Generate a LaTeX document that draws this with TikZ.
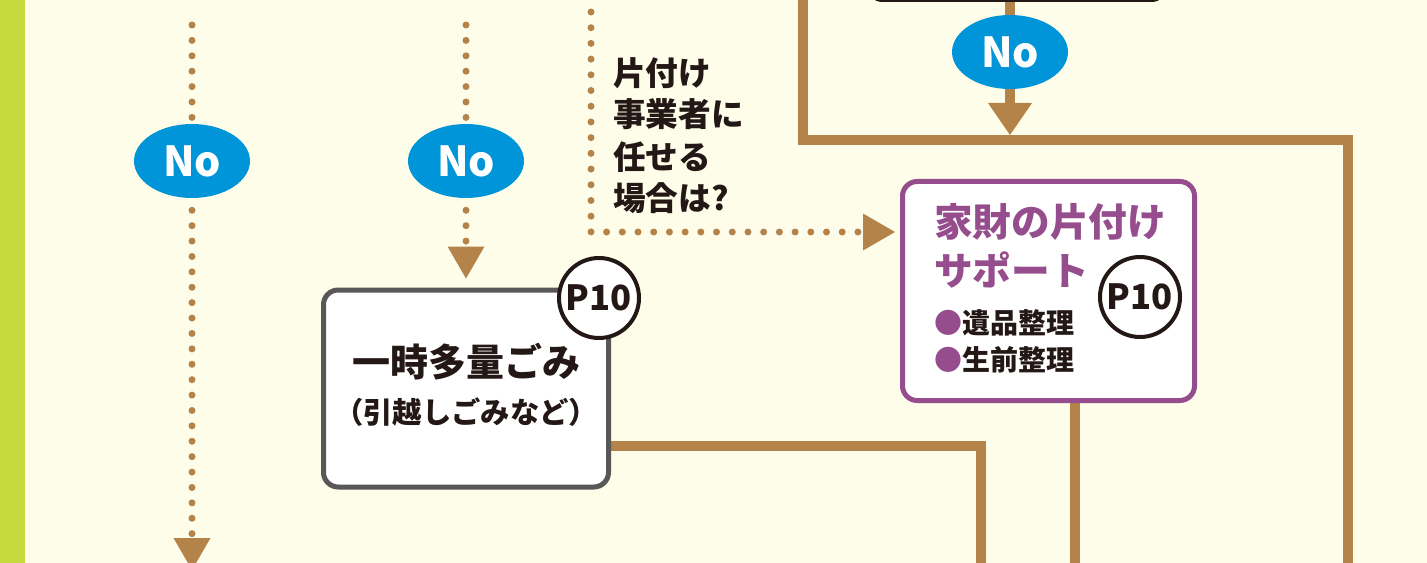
\documentclass[tikz,border=0pt]{standalone}
\usepackage{fontspec}
\setmainfont{Noto Sans CJK JP}
\usetikzlibrary{arrows.meta,shapes.geometric,calc}
\definecolor{bgc}{HTML}{FEFDEA}
\definecolor{leaf}{HTML}{C6D93E}
\definecolor{brn}{HTML}{B3834A}
\definecolor{nob}{HTML}{0094D8}
\definecolor{pur}{HTML}{954D8D}
\definecolor{gry}{HTML}{595757}
\definecolor{ink}{HTML}{231815}
\pgfdeclarelayer{back}
\pgfdeclarelayer{lines}
\pgfsetlayers{back,lines,main}
\begin{document}
\begin{tikzpicture}[x=0.75pt,y=-0.75pt,
  noell/.style={ellipse, fill=nob, minimum width=87pt, minimum height=55.5pt, inner sep=0pt,
    text=white, font=\bfseries\fontsize{31}{31}\selectfont},
  dotln/.style={draw=brn, line width=5.25pt, line cap=round, dash pattern=on 0pt off 11.55pt},
  solidln/.style={draw=brn, line width=7.5pt},
  brtip/.style={-{Triangle[length=24pt, width=27.75pt, line width=0pt]}},
  brtipS/.style={-{Triangle[length=24pt, width=33pt, line width=0pt]}},
  pcirc/.style={circle, draw=ink, line width=3pt, fill=white, minimum size=60pt, inner sep=0pt,
    text=ink, font=\bfseries\fontsize{26}{26}\selectfont},
  gbox/.style={draw=gry, line width=3.75pt, rounded corners=11pt, fill=white},
  pbox/.style={draw=pur, line width=3.75pt, rounded corners=11pt, fill=white},
  txt/.style={inner sep=0pt, text=ink}
]
\useasboundingbox (0,0) rectangle (1427,563);
\clip (0,0) rectangle (1427,563);
\begin{pgfonlayer}{back}
\fill[bgc] (0,0) rectangle (1427,563);
\fill[leaf] (0,0) rectangle (25,563);
\end{pgfonlayer}

% nodes
\node[noell] (no1) at (192,161) {No};
\node[noell] (no2) at (466,161) {No};
\node[noell] (no3) at (1010,52) {No};

\node[draw=ink, line width=3pt, rounded corners=10pt, fill=white, minimum width=222pt,
  minimum height=60pt, anchor=south] (topbox) at (1017,2) {};

\node[gbox, minimum width=213.75pt, minimum height=147.75pt] (box1) at (466,388.5) {};
\node[txt, font=\bfseries\fontsize{28.5}{28.5}\selectfont] (t1) at (466,362) {一時多量ごみ};
\node[txt, font=\bfseries\fontsize{22}{22}\selectfont] (t2) at (466,412) {（引越しごみなど）};
\node[pcirc] (pc1) at (599,298) {P10};

\node[pbox, minimum width=219pt, minimum height=164.25pt] (box2) at (1048.5,291) {};
\node[txt, anchor=west, text=pur, font=\bfseries\fontsize{29}{29}\selectfont] (p1) at (934,222) {家財の片付け};
\node[txt, anchor=west, text=pur, font=\bfseries\fontsize{29}{29}\selectfont] (p2) at (934,270) {サポート};
\node[txt, anchor=west, font=\bfseries\fontsize{21}{21}\selectfont] (p3) at (934,323) {\textcolor{pur}{●}遺品整理};
\node[txt, anchor=west, font=\bfseries\fontsize{21}{21}\selectfont] (p4) at (934,360) {\textcolor{pur}{●}生前整理};
\node[pcirc] (pc2) at (1140,297) {P10};

\node[txt, anchor=west, font=\bfseries\fontsize{24.5}{24.5}\selectfont] (q1) at (613,73) {片付け};
\node[txt, anchor=west, font=\bfseries\fontsize{24.5}{24.5}\selectfont] (q2) at (613,114) {事業者に};
\node[txt, anchor=west, font=\bfseries\fontsize{24.5}{24.5}\selectfont] (q3) at (613,157) {任せる};
\node[txt, anchor=west, font=\bfseries\fontsize{24.5}{24.5}\selectfont] (q4) at (613,198) {場合は?};

% coordinates
\coordinate (s1) at (192,25);
\coordinate (e1) at (192,570);
\coordinate (s2) at (466,25);
\coordinate (s3) at (591,12);
\coordinate (c3) at (591,232);
\coordinate (a0) at (803,-10);
\coordinate (a1) at (803,140);
\coordinate (a2) at (1348,140);
\coordinate (a3) at (1348,580);
\coordinate (j3) at (1010,135);
\coordinate (b1) at (981,446);
\coordinate (b2) at (981,580);
\coordinate (c2) at (1075,580);

\begin{pgfonlayer}{lines}
\draw[dotln] (s1) -- (no1.north);
\draw[dotln, shorten <=9pt, brtip] (no1.south) -- (e1);
\draw[dotln] (s2) -- (no2.north);
\draw[dotln, shorten <=9pt, shorten >=6.75pt, brtip] (no2.south) -- (box1.north);
\draw[dotln, dash pattern=on 0pt off 11.78pt, shorten >=3.75pt, brtip] (s3) |- (box2.west |- c3);
\draw[solidln] (a0) -- (a1) -- (a2) -- (a3);
\draw[solidln] (topbox.south -| no3) -- (no3.north);
\draw[solidln, brtipS] (no3.south) -- (j3);
\draw[solidln] (box1.east |- b1) -- (b1) -- (b2);
\draw[solidln] (box2.south -| c2) -- (c2);
\end{pgfonlayer}
\end{tikzpicture}
\end{document}
